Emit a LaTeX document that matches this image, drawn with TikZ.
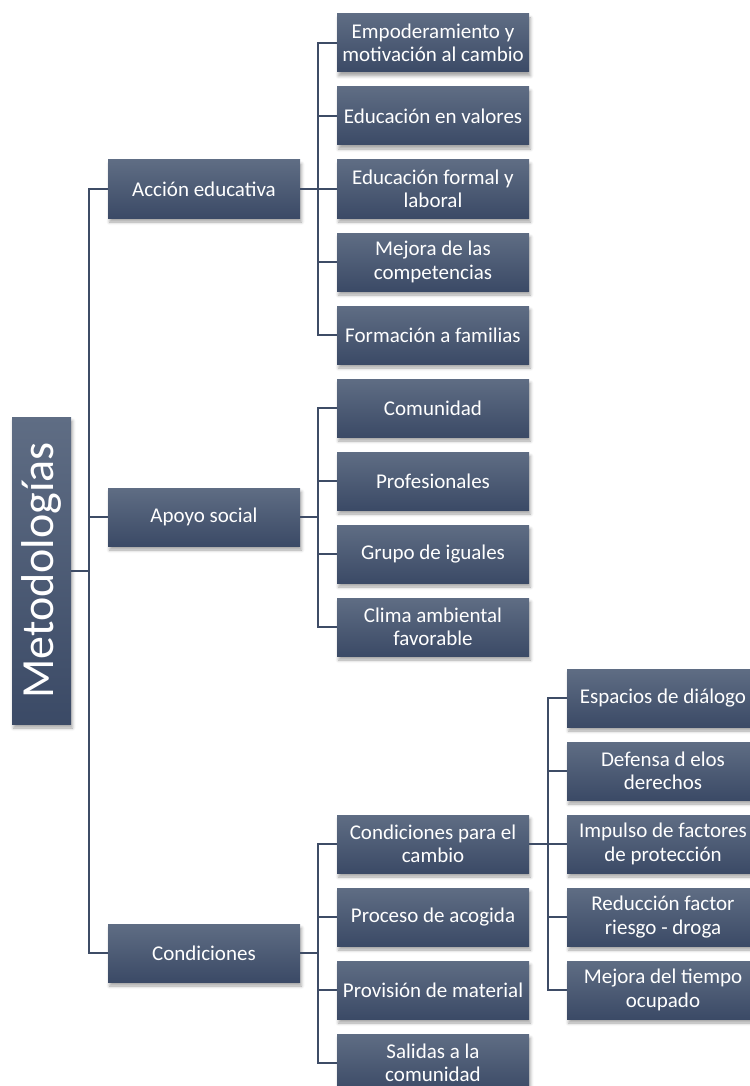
\documentclass[tikz,border=0pt]{standalone}
\usepackage{fontspec}
\setmainfont{Carlito}
\usetikzlibrary{shadows.blur}
\definecolor{boxtop}{HTML}{5F6D84}
\definecolor{boxbot}{HTML}{3B4A66}
\definecolor{linecol}{HTML}{3E4C66}
\tikzset{
  box/.style={rectangle, minimum width=192pt, minimum height=58pt, inner sep=2pt,
    top color=boxtop, bottom color=boxbot, text=white, align=center,
    font=\fontsize{21}{23.5}\selectfont,
    blur shadow={shadow xshift=1.5pt, shadow yshift=-4pt, shadow blur radius=3pt, shadow opacity=35}},
  rootbox/.style={box, minimum width=59pt, minimum height=307pt, inner sep=0pt,
    font=\fontsize{46}{50}\selectfont},
  conn/.style={draw=linecol, line width=2pt}
}
\begin{document}
\begin{tikzpicture}[x=1pt, y=-1pt]
\useasboundingbox (0,0) rectangle (749,1086);
% root
\node[rootbox] (root) at (41.5,570.5) {\rotatebox{90}{Metodologías}};
% level 1
\node[box] (a) at (204,189) {Acción educativa};
\node[box] (b) at (204,517) {Apoyo social};
\node[box] (c) at (204,953) {Condiciones};
% level 2 - Acción educativa
\node[box] (a1) at (433,43) {Empoderamiento y\\motivación al cambio};
\node[box] (a2) at (433,116) {Educación en valores};
\node[box] (a3) at (433,189) {Educación formal y\\laboral};
\node[box] (a4) at (433,262) {Mejora de las\\competencias};
\node[box] (a5) at (433,335) {Formación a familias};
% level 2 - Apoyo social
\node[box] (b1) at (433,408) {Comunidad};
\node[box] (b2) at (433,481) {Profesionales};
\node[box] (b3) at (433,554) {Grupo de iguales};
\node[box] (b4) at (433,627) {Clima ambiental\\favorable};
% level 2 - Condiciones
\node[box] (c1) at (433,844) {Condiciones para el\\cambio};
\node[box] (c2) at (433,917) {Proceso de acogida};
\node[box] (c3) at (433,990) {Provisión de material};
\node[box] (c4) at (433,1063) {Salidas a la\\comunidad};
% level 3
\node[box] (d1) at (663,698) {Espacios de diálogo};
\node[box] (d2) at (663,771) {Defensa d elos\\derechos};
\node[box] (d3) at (663,844) {Impulso de factores\\de protección};
\node[box] (d4) at (663,917) {Reducción factor\\riesgo - droga};
\node[box] (d5) at (663,990) {Mejora del tiempo\\ocupado};
% junction coordinates
\coordinate (t) at (89,570.5);
\coordinate (ta) at (318,189);
\coordinate (tb) at (318,517);
\coordinate (tc) at (318,953);
\coordinate (td) at (548,844);
% connectors root
\draw[conn] (root.east) -- (t);
\draw[conn] (a.west) -| (t) |- (c.west);
\draw[conn] (b.west) -- (b.west -| t);
% Acción educativa
\draw[conn] (a.east) -- (ta);
\draw[conn] (a1.west) -| (ta) |- (a5.west);
\draw[conn] (a2.west) -- (a2.west -| ta);
\draw[conn] (a3.west) -- (a3.west -| ta);
\draw[conn] (a4.west) -- (a4.west -| ta);
% Apoyo social
\draw[conn] (b.east) -- (tb);
\draw[conn] (b1.west) -| (tb) |- (b4.west);
\draw[conn] (b2.west) -- (b2.west -| tb);
\draw[conn] (b3.west) -- (b3.west -| tb);
% Condiciones
\draw[conn] (c.east) -- (tc);
\draw[conn] (c1.west) -| (tc) |- (c4.west);
\draw[conn] (c2.west) -- (c2.west -| tc);
\draw[conn] (c3.west) -- (c3.west -| tc);
% Condiciones para el cambio
\draw[conn] (c1.east) -- (td);
\draw[conn] (d1.west) -| (td) |- (d5.west);
\draw[conn] (d2.west) -- (d2.west -| td);
\draw[conn] (d3.west) -- (d3.west -| td);
\draw[conn] (d4.west) -- (d4.west -| td);
\end{tikzpicture}
\end{document}
